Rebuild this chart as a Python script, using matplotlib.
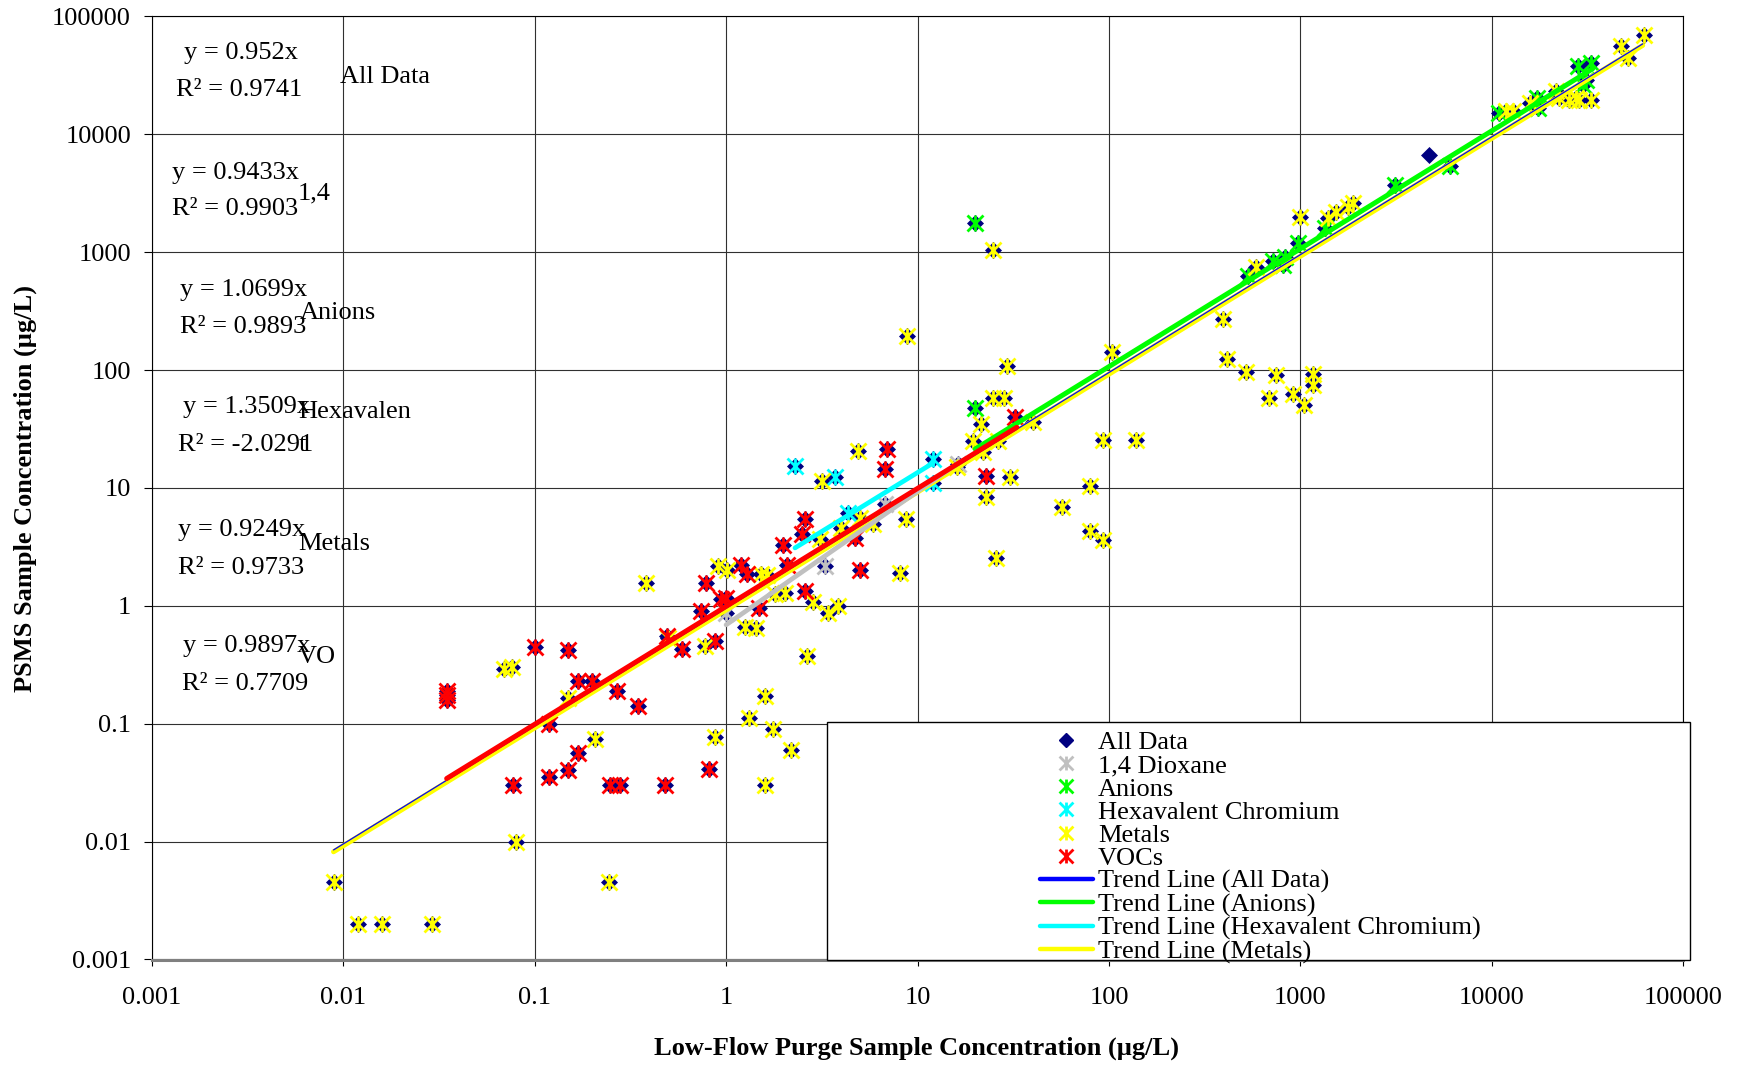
import numpy as np
import matplotlib
matplotlib.use('Agg')
import matplotlib.pyplot as plt
from matplotlib.path import Path
from matplotlib.lines import Line2D
from matplotlib.patches import Rectangle
from matplotlib.ticker import NullLocator

plt.rcParams['font.family'] = ['Liberation Serif', 'DejaVu Serif']

# ---------------- data (x = low-flow purge, y = PSMS), ug/L ----------------
metals = [(0.009, 0.0045), (0.012, 0.002), (0.016, 0.002), (0.029, 0.002), (0.069, 0.29),
          (0.076, 0.30), (0.15, 0.164), (0.206, 0.074), (0.08, 0.01), (0.245, 0.0045),
          (0.78, 0.46), (0.87, 0.077), (1.59, 0.0305), (1.59, 0.172), (1.32, 0.111),
          (1.76, 0.091), (2.17, 0.06), (1.25, 0.66), (1.44, 0.65), (0.38, 1.55),
          (0.91, 2.17), (1.01, 2.0), (1.53, 1.88), (1.63, 1.81), (1.80, 1.25),
          (2.03, 1.29), (2.83, 1.07), (3.41, 0.87), (3.85, 0.99), (2.63, 0.377),
          (3.15, 11.5), (4.89, 20.6), (5.86, 4.9), (4.0, 4.6), (5.0, 5.6),
          (8.75, 5.5), (8.14, 1.9), (3.09, 3.66), (19.5, 25), (21.5, 35),
          (30.3, 12.5), (22.9, 8.45), (25.6, 2.56), (57, 6.95), (80, 10.4),
          (80, 4.3), (92.5, 3.6), (92.5, 25.6), (139, 25.6), (40, 36.5),
          (24.8, 1040), (8.8, 193), (29.3, 109), (24.8, 58.3), (28.2, 58.3),
          (22, 20), (26.4, 25.1), (16, 15.2), (104, 142), (394, 269),
          (415, 124), (521, 97), (748, 91), (686, 58), (915, 62.6),
          (1040, 50.6), (1160, 93), (1160, 75), (1000, 2000), (588, 751),
          (1393, 1935), (1542, 2208), (1771, 2432), (1883, 2597), (11890, 15660),
          (12880, 15660), (15810, 18400), (22540, 20300), (25410, 19670), (27520, 20300),
          (28640, 19670), (32960, 19670), (47400, 55960), (51330, 44570), (62700, 69500),
          (21680, 23170), (0.5, 0.53)]

vocs = [(0.0347, 0.16), (0.0347, 0.175), (0.0347, 0.19), (0.1, 0.447), (0.15, 0.424),
        (0.169, 0.232), (0.20, 0.232), (0.268, 0.191), (0.347, 0.142), (0.119, 0.099),
        (0.169, 0.056), (0.15, 0.0404), (0.119, 0.0354), (0.0773, 0.0305), (0.247, 0.0305),
        (0.279, 0.0305), (0.479, 0.03), (0.815, 0.041), (0.489, 0.55), (0.589, 0.433),
        (0.873, 0.499), (1.19, 2.2), (1.29, 1.88), (0.783, 1.55), (0.946, 1.15),
        (1.0, 1.17), (0.743, 0.897), (1.49, 0.96), (1.99, 3.25), (2.07, 2.24),
        (2.58, 5.42), (2.48, 4.03), (2.58, 1.33), (6.96, 21.3), (6.74, 14.4),
        (4.70, 3.78), (4.99, 2.03), (22.9, 12.6), (32.2, 39.7)]

anions = [(19.9, 1778), (19.9, 47.4), (970, 1186), (530, 632), (718, 845),
          (810, 780), (830, 910), (1349, 1592), (3105, 3715), (6011, 5333),
          (10960, 15140), (17140, 20300), (17480, 16700), (29850, 26370), (28120, 37840),
          (33050, 40360), (31100, 29100)]

hexchrom = [(2.29, 15.4), (3.70, 12.5), (4.34, 6.18), (12.0, 17.5), (12.0, 11.1)]

dioxane = [(1.0, 0.87), (3.27, 2.17), (6.74, 7.26), (16.3, 15.9)]

all_only = [(4670, 6700)]

# trend lines: (x_start, x_end), (y_start, y_end)
trend_all = ([0.0089, 61400], [0.0085, 58500])
trend_metals = ([0.0089, 61400], [0.0082, 56800])
trend_anions = ([20, 33600], [21.4, 35950])
trend_hex = ([2.29, 12.0], [3.1, 16.2])
trend_diox = ([1.0, 17.0], [0.69, 17.0])
trend_vocs = ([0.0347, 33.0], [0.0343, 32.7])

tick_vals = [0.001, 0.01, 0.1, 1, 10, 100, 1000, 10000, 100000]
tick_labels = ['0.001', '0.01', '0.1', '1', '10', '100', '1000', '10000', '100000']

equations = [('y = 0.952x', 'R² = 0.9741', 'All Data'),
             ('y = 0.9433x', 'R² = 0.9903', '1,4'),
             ('y = 1.0699x', 'R² = 0.9893', 'Anions'),
             ('y = 1.3509x', 'R² = -2.0291', 'Hexavalen'),
             ('y = 0.9249x', 'R² = 0.9733', 'Metals'),
             ('y = 0.9897x', 'R² = 0.7709', 'VO')]

legend_labels = ['All Data', '1,4 Dioxane', 'Anions', 'Hexavalent Chromium', 'Metals', 'VOCs',
                 'Trend Line (All Data)', 'Trend Line (Anions)',
                 'Trend Line (Hexavalent Chromium)', 'Trend Line (Metals)']

# ---------------- styling ----------------
NAVY = '#000080'
C_DIOX = '#C0C0C0'
C_AN = '#00FF00'
C_HEX = '#00FFFF'
C_MET = '#FFFF00'
C_VOC = '#FF0000'
C_BLUE = '#0000FF'

W, H = 1740, 1065
fig = plt.figure(figsize=(W / 100, H / 100), dpi=100)
L, R, T, B = 151.8, 1683.3, 16.4, 959.5
ax = fig.add_axes([L / W, 1 - B / H, (R - L) / W, (B - T) / H])
ax.set_xscale('log')
ax.set_yscale('log')
ax.set_xlim(1e-3, 1e5)
ax.set_ylim(1e-3, 1e5)
ax.set_xticks(tick_vals)
ax.set_xticklabels(tick_labels)
ax.set_yticks(tick_vals)
ax.set_yticklabels(tick_labels)
ax.xaxis.set_minor_locator(NullLocator())
ax.yaxis.set_minor_locator(NullLocator())
ax.grid(True, which='major', color='#303030', lw=0.8)
ax.set_axisbelow(True)
ax.tick_params(axis='x', direction='out', length=4, width=0.8, pad=16, labelsize=19)
ax.tick_params(axis='y', direction='out', length=6, width=0.8, pad=9, labelsize=19)
for s in ['top', 'right', 'left']:
    ax.spines[s].set_color('black')
    ax.spines[s].set_linewidth(0.8)
ax.spines['bottom'].set_color('#808080')
ax.spines['bottom'].set_linewidth(2.2)

star = Path([(-1, -1), (1, 1), (-1, 1), (1, -1), (0, -1), (0, 1)],
            [Path.MOVETO, Path.LINETO, Path.MOVETO, Path.LINETO, Path.MOVETO, Path.LINETO])

def xy(pts):
    a = np.array(pts, dtype=float)
    return a[:, 0], a[:, 1]

groups = [(dioxane, C_DIOX), (anions, C_AN), (hexchrom, C_HEX), (metals, C_MET), (vocs, C_VOC)]
all_pts = all_only + dioxane + anions + hexchrom + metals + vocs
ax_, ay_ = xy(all_pts)
ax.plot(ax_, ay_, ls='none', marker='D', ms=8.4, mfc=NAVY, mec=NAVY, mew=0.5, zorder=3)
for pts, col in groups:
    gx, gy = xy(pts)
    ax.plot(gx, gy, ls='none', marker=star, ms=11.5, mfc='none', mec=col, mew=2.0, zorder=4)

def tl(tr, col, lw, z):
    ax.plot(tr[0], tr[1], color=col, lw=lw, solid_capstyle='round', zorder=z)

tl(trend_metals, C_MET, 3.6, 5.0)
tl(trend_anions, C_AN, 3.6, 5.1)
tl(trend_all, C_BLUE, 0.9, 5.2)
tl(trend_hex, C_HEX, 3.4, 5.3)
tl(trend_diox, C_DIOX, 3.4, 5.4)
tl(trend_vocs, C_VOC, 3.6, 5.5)

# equation annotations
eq_pos = [(184, 53, 176, 90, 340, 77),
          (172, 173, 172, 209, 298, 193),
          (180, 290, 180, 327, 300, 313),
          (183, 407, 178, 445, 298, 412),
          (178, 530, 178, 568, 298, 544),
          (183, 646, 182, 684, 298, 657)]
for (e, r2, name), (ex, ey, rx, ry, nx, ny) in zip(equations, eq_pos):
    fig.text(ex / W, 1 - ey / H, e, fontsize=19, ha='left', va='center')
    fig.text(rx / W, 1 - ry / H, r2, fontsize=19, ha='left', va='center')
    fig.text(nx / W, 1 - ny / H, name, fontsize=19, ha='left', va='center')
fig.text(299 / W, 1 - 445 / H, 't', fontsize=19, ha='left', va='center')

# axis titles
fig.text(916.6 / W, 1 - 1048 / H, 'Low-Flow Purge Sample Concentration (µg/L)',
         fontsize=19, fontweight='bold', ha='center', va='center')
fig.text(25.5 / W, 1 - 488 / H, 'PSMS Sample Concentration (µg/L)',
         fontsize=19, fontweight='bold', ha='center', va='center', rotation=90)

# legend box
x0 = (826.7 - L) / (R - L)
x1 = (1690 - L) / (R - L)
y1 = (B - 722.4) / (B - T)
ax.add_patch(Rectangle((x0, 0.0), x1 - x0, y1, transform=ax.transAxes, fc='white',
                       ec='black', lw=1.0, zorder=15, clip_on=False))

handles = [Line2D([], [], ls='none', marker='D', ms=7, mfc=NAVY, mec=NAVY),
           Line2D([], [], ls='none', marker=star, ms=10, mfc='none', mec=C_DIOX, mew=2),
           Line2D([], [], ls='none', marker=star, ms=10, mfc='none', mec=C_AN, mew=2),
           Line2D([], [], ls='none', marker=star, ms=10, mfc='none', mec=C_HEX, mew=2),
           Line2D([], [], ls='none', marker=star, ms=10, mfc='none', mec=C_MET, mew=2),
           Line2D([], [], ls='none', marker=star, ms=10, mfc='none', mec=C_VOC, mew=2),
           Line2D([], [], color=C_BLUE, lw=3.2, solid_capstyle='round'),
           Line2D([], [], color=C_AN, lw=3.2, solid_capstyle='round'),
           Line2D([], [], color=C_HEX, lw=3.2, solid_capstyle='round'),
           Line2D([], [], color=C_MET, lw=3.2, solid_capstyle='round')]
leg = ax.legend(handles, legend_labels, loc='upper left', bbox_to_anchor=(1040 / W, 1 - 731 / H),
                bbox_transform=fig.transFigure, frameon=False, fontsize=19, labelspacing=-0.015,
                handlelength=2.0, handletextpad=0.2, borderpad=0, borderaxespad=0, numpoints=1)
leg.set_zorder(20)

fig.savefig('out.png', dpi=100)
